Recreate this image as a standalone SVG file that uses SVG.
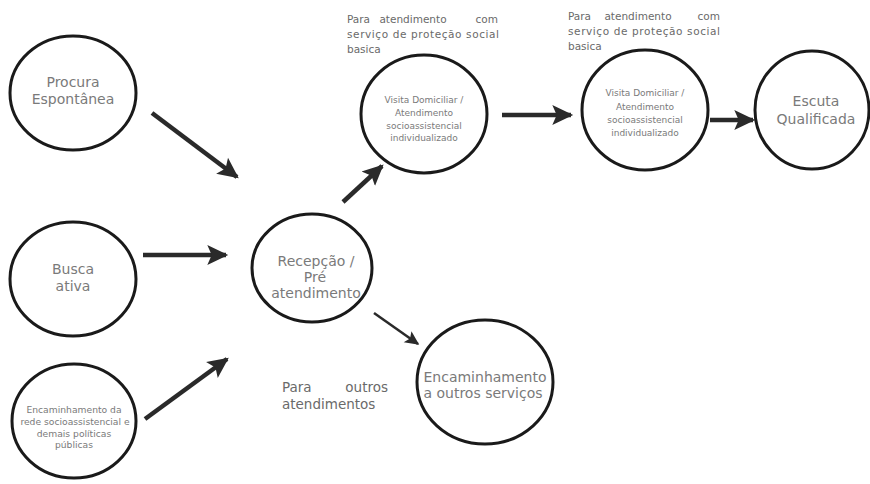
<svg xmlns="http://www.w3.org/2000/svg" width="870" height="484" viewBox="0 0 870 484">
<style>
.node ellipse{fill:#fff;stroke:#1a1a1a;stroke-width:3}
.t{font-family:"DejaVu Sans","Liberation Sans",sans-serif;fill:#7a7a7a;text-anchor:middle}
.big{font-size:14px}
.sm{font-size:9.2px}
.xs{font-size:9px}
.lbl{font-family:"DejaVu Sans","Liberation Sans",sans-serif;fill:#6a6a6a;font-size:10.5px}
.lbl2{font-family:"DejaVu Sans","Liberation Sans",sans-serif;fill:#6a6a6a;font-size:13.5px}
.conn line{stroke:#2a2a2a;stroke-width:4.5}
.conn line.thin{stroke-width:2.5}
</style>
<defs>
<marker id="ah" markerUnits="userSpaceOnUse" markerWidth="22" markerHeight="22" viewBox="0 0 20 20" refX="17" refY="10" orient="auto">
<path d="M0,1 L19,10 L0,19 L4,10 Z" fill="#2a2a2a"/>
</marker>
<marker id="ahs" markerUnits="userSpaceOnUse" markerWidth="15" markerHeight="15" viewBox="0 0 20 20" refX="17" refY="10" orient="auto">
<path d="M0,1 L19,10 L0,19 L4,10 Z" fill="#2a2a2a"/>
</marker>
</defs>
<rect width="870" height="484" fill="#fff"/>
<g id="connectors" class="conn">
<line x1="152" y1="113" x2="237" y2="177" marker-end="url(#ah)"/>
<line x1="143" y1="255" x2="226" y2="255" marker-end="url(#ah)"/>
<line x1="145" y1="419" x2="227" y2="359" marker-end="url(#ah)"/>
<line x1="343" y1="202" x2="382" y2="166" marker-end="url(#ah)"/>
<line x1="502" y1="115" x2="571" y2="115" marker-end="url(#ah)"/>
<line x1="710" y1="120" x2="753" y2="120" marker-end="url(#ah)"/>
<line class="thin" x1="374" y1="313" x2="418" y2="344" marker-end="url(#ahs)"/>
</g>
<g id="n-procura" class="node">
<ellipse cx="73" cy="93" rx="63" ry="57"/>
<text class="t big" x="73" y="87">Procura</text>
<text class="t big" x="73" y="104">Espontânea</text>
</g>
<g id="n-busca" class="node">
<ellipse cx="73" cy="279" rx="63" ry="57"/>
<text class="t big" x="73" y="274">Busca</text>
<text class="t big" x="73" y="291">ativa</text>
</g>
<g id="n-encrede" class="node">
<ellipse cx="74" cy="421" rx="62" ry="57"/>
<text class="t sm" x="74" y="413">Encaminhamento da</text>
<text class="t sm" x="75" y="425">rede socioassistencial e</text>
<text class="t sm" x="74" y="437">demais políticas</text>
<text class="t sm" x="74" y="448">públicas</text>
</g>
<g id="n-recepcao" class="node">
<ellipse cx="312" cy="268" rx="60" ry="54"/>
<text class="t big" x="316" y="266">Recepção /</text>
<text class="t big" x="315" y="282">Pré</text>
<text class="t big" x="316" y="298">atendimento</text>
</g>
<g id="n-visita1" class="node">
<ellipse cx="424" cy="114" rx="63" ry="59"/>
<text class="t xs" x="424" y="103">Visita Domiciliar /</text>
<text class="t xs" x="424" y="116">Atendimento</text>
<text class="t xs" x="424" y="129">socioassistencial</text>
<text class="t xs" x="424" y="141">individualizado</text>
</g>
<g id="n-visita2" class="node">
<ellipse cx="645" cy="110" rx="63" ry="60"/>
<text class="t xs" x="645" y="96">Visita Domiciliar /</text>
<text class="t xs" x="645" y="110">Atendimento</text>
<text class="t xs" x="645" y="123">socioassistencial</text>
<text class="t xs" x="645" y="136">individualizado</text>
</g>
<g id="n-escuta" class="node">
<ellipse cx="812" cy="110" rx="57" ry="59"/>
<text class="t big" x="816" y="106">Escuta</text>
<text class="t big" x="816" y="124">Qualificada</text>
</g>
<g id="n-encoutros" class="node">
<ellipse cx="485" cy="382" rx="68" ry="62"/>
<text class="t big" x="485" y="382">Encaminhamento</text>
<text class="t big" x="483" y="398">a outros serviços</text>
</g>
<g id="labels">
<text class="lbl" y="23"><tspan x="347">Para</tspan><tspan x="413" text-anchor="middle">atendimento</tspan><tspan x="498" text-anchor="end">com</tspan></text>
<text class="lbl" x="347" y="38" textLength="152" lengthAdjust="spacing">serviço de proteção social</text>
<text class="lbl" x="347" y="53">basica</text>
<text class="lbl" y="20"><tspan x="568">Para</tspan><tspan x="638" text-anchor="middle">atendimento</tspan><tspan x="720" text-anchor="end">com</tspan></text>
<text class="lbl" x="568" y="35" textLength="152" lengthAdjust="spacing">serviço de proteção social</text>
<text class="lbl" x="568" y="50">basica</text>
<text class="lbl2" y="392"><tspan x="282">Para</tspan><tspan x="388" text-anchor="end">outros</tspan></text>
<text class="lbl2" x="282" y="409">atendimentos</text>
</g>
</svg>
